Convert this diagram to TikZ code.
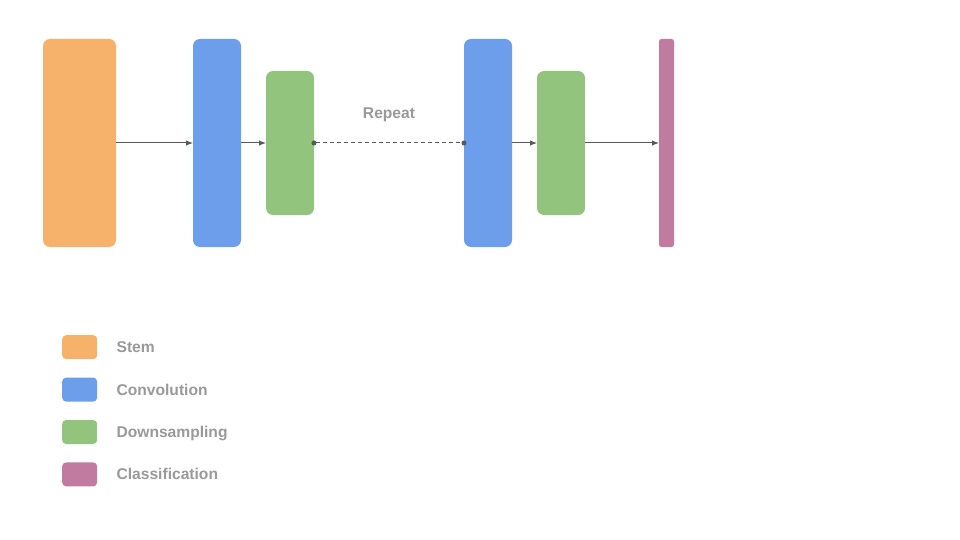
\documentclass[tikz,border=0pt]{standalone}
\usepackage{fontspec}
\setmainfont{Liberation Sans}
\usepackage{tikz}
\usetikzlibrary{arrows.meta,positioning}

\definecolor{stemorange}{HTML}{F6B26B}
\definecolor{convblue}{HTML}{6D9EEB}
\definecolor{downgreen}{HTML}{93C47D}
\definecolor{clspink}{HTML}{C27BA0}
\definecolor{textgrey}{HTML}{999999}
\definecolor{linegrey}{HTML}{595959}

\begin{document}
\begin{tikzpicture}[x=1pt, y=-1pt,
		block/.style  = {rounded corners=7pt, inner sep=0pt, outer sep=0pt, anchor=north west},
		stem/.style   = {block, fill=stemorange, minimum width=73pt, minimum height=208pt},
		conv/.style   = {block, fill=convblue, minimum width=48pt, minimum height=208pt},
		down/.style   = {block, fill=downgreen, minimum width=48pt, minimum height=144pt},
		cls/.style    = {block, rounded corners=2.5pt, fill=clspink, minimum width=15pt, minimum height=208pt},
		legendbox/.style = {rounded corners=4pt, inner sep=0pt, minimum width=35pt, minimum height=24pt},
		keytext/.style   = {text=textgrey, font=\bfseries\fontsize{15.6}{19}\selectfont, inner sep=0pt, text height=11.5pt, text depth=0.5pt},
		link/.style   = {draw=linegrey, line width=1pt},
		>={Latex[length=7pt,width=5.5pt]}]
		
		\useasboundingbox (0,0) rectangle (960,540);
		
		% the network blocks
		\node[stem] (s)  at (43,39)  {};
		\node[conv] (c1) at (193,39) {};
		\node[down] (d1) at (266,71) {};
		\node[conv] (c2) at (464,39) {};
		\node[down] (d2) at (537,71) {};
		\node[cls]  (k)  at (659,39) {};
		
		\node[keytext] (rep) at (389,113) {Repeat};
		
		% arrows between the blocks
		\draw[link,->] (s.east) -- (c1.west);
		\draw[link,->] (c1.east) -- (d1.west);
		\draw[link,dash pattern=on 4pt off 3pt,{Circle[length=5pt,sep=-2.5pt]}-{Circle[length=5pt,sep=-2.5pt]}] (d1.east) -- (c2.west);
		\draw[link,->] (c2.east) -- (d2.west);
		\draw[link,->] (d2.east) -- (k.west);
		
		% the legend, relatively positioned
		\node[legendbox, fill=stemorange, anchor=north west] (l1) at (62,335) {};
		\node[legendbox, fill=convblue, below=18pt of l1] (l2) {};
		\node[legendbox, fill=downgreen, below=18pt of l2] (l3) {};
		\node[legendbox, fill=clspink, below=18pt of l3] (l4) {};
		
		\foreach \value/\name in {1/Stem,2/Convolution,3/Downsampling,4/Classification}
		\node[keytext, right=19pt of l\value] (t\value) {\name};
		
\end{tikzpicture}
\end{document}
